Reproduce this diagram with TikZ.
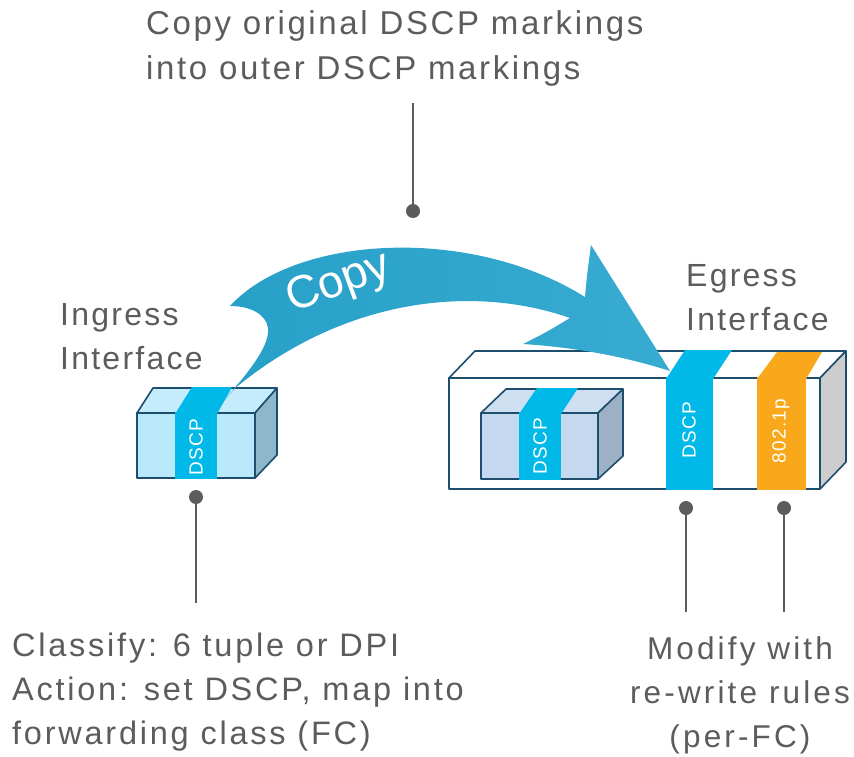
\documentclass[tikz,border=0pt]{standalone}
\usepackage{fontspec}
\setmainfont{Liberation Sans}[LetterSpace=7]
\usetikzlibrary{fadings}

\definecolor{txtgray}{HTML}{5C5C5C}
\definecolor{boxline}{HTML}{1D4E6E}
\definecolor{cyanband}{HTML}{00B9E8}
\definecolor{orangeband}{HTML}{F9A81B}
\definecolor{ingfront}{HTML}{B9E8FB}
\definecolor{ingtop}{HTML}{C4ECFC}
\definecolor{ingside}{HTML}{8DB8CB}
\definecolor{pktfront}{HTML}{C4D8EF}
\definecolor{pkttop}{HTML}{CEDFF2}
\definecolor{pktside}{HTML}{9DB1C6}
\definecolor{frameside}{HTML}{CDCDCD}
\definecolor{copyA}{HTML}{27A0C8}
\definecolor{copyB}{HTML}{38ABD1}

% soft vertical falloff for the drop shadows
\tikzfading[name=softedge, top color=transparent!100, middle color=transparent!15, bottom color=transparent!100]

\tikzset{
  lbl/.style={text=txtgray, inner sep=0pt},
  edge/.style={draw=boxline, line width=1.6pt, line join=round},
  tag/.style={text=white, rotate=90, inner sep=0pt, font=\fontsize{19}{19}\selectfont},
  pin/.style={draw=txtgray, line width=1.8pt},
  pindot/.style={fill=txtgray, circle, inner sep=0pt, minimum size=14pt},
  shadow/.style={left color=black!32, right color=white, path fading=softedge},
}

\begin{document}
\begin{tikzpicture}[x=1pt, y=-1pt]
\useasboundingbox (0,0) rectangle (854,757);

% ---------- drop shadows ----------
\shade[shadow] (250,446) rectangle (318,488);
\shade[shadow] (594,446) rectangle (660,486);
\shade[shadow] (840,455) rectangle (854,500);
\fill[black!12, path fading=softedge] (455,484) rectangle (846,500);

% ---------- ingress packet ----------
\path[fill=ingtop, edge] (137,413) -- (153,388) -- (277,388) -- (255,413) -- cycle;
\path[fill=ingfront, edge] (137,413) rectangle (255,478);
\path[fill=ingside, edge] (255,413) -- (277,388) -- (277,455) -- (255,478) -- cycle;
\fill[cyanband] (175,414) -- (192,387) -- (232,387) -- (217,414) -- cycle;
\fill[cyanband] (175,412) rectangle (217,479);
\node[tag] (ingdscp) at (196,447) {DSCP};

% ---------- egress frame ----------
\path[fill=white, edge] (449,378) -- (475,351) -- (846,351) -- (820,378) -- cycle;
\path[fill=white, edge] (449,378) rectangle (820,489);
\path[fill=frameside, edge] (820,378) -- (846,351) -- (846,462) -- (820,489) -- cycle;

% inner (original) packet
\path[fill=pkttop, edge] (481,413) -- (506,389) -- (623,389) -- (598,413) -- cycle;
\path[fill=pktfront, edge] (481,413) rectangle (598,479);
\path[fill=pktside, edge] (598,413) -- (623,389) -- (623,456) -- (598,479) -- cycle;
\fill[cyanband] (519,414) -- (537,388) -- (578,388) -- (561,414) -- cycle;
\fill[cyanband] (519,412) rectangle (561,480);
\node[tag] (innerdscp) at (540,446) {DSCP};

% outer header fields
\fill[cyanband] (666,379) -- (685,350) -- (732,350) -- (713,379) -- cycle;
\fill[cyanband] (666,377) rectangle (713,490);
\node[tag] (outerdscp) at (689,430) {DSCP};
\fill[orangeband] (757,379) -- (777,352) -- (822,352) -- (806,379) -- cycle;
\fill[orangeband] (757,377) rectangle (806,490);
\node[tag] (dot1p) at (781,431) {802.1p};

% ---------- copy arrow ----------
\fill[copyA, opacity=0.45] (238,384) -- (251,371) -- (213,413) -- cycle;
\shade[left color=copyA, right color=copyB]
  (230,306) .. controls (295,235) and (470,225) .. (585,297)
  .. controls (587,275) .. (591,245)
  -- (670,371)
  .. controls (620,355) and (570,347) .. (523,344)
  .. controls (545,333) .. (570,318)
  .. controls (470,283) and (340,300) .. (233,390)
  .. controls (250,370) and (270,345) .. (268,328)
  .. controls (266,314) and (250,306) .. (230,306) -- cycle;
\node[text=white, inner sep=0pt, rotate=20,
      font=\fontsize{46}{46}\selectfont\addfontfeature{LetterSpace=0}] (copy) at (339,284) {Copy};

% ---------- labels ----------
\node[lbl, anchor=north west, align=left,
      font=\fontsize{33}{45}\selectfont\addfontfeature{LetterSpace=8}] (topnote) at (146,10)
  {Copy original DSCP markings\\into outer DSCP markings};
\node[lbl, anchor=north west, align=left, font=\fontsize{32}{44}\selectfont] (ingress) at (60,303)
  {Ingress\\Interface};
\node[lbl, anchor=north west, align=left, font=\fontsize{32}{44}\selectfont] (egress) at (686,264)
  {Egress\\Interface};
\node[lbl, anchor=north west, align=left,
      font=\fontsize{32.5}{44}\selectfont\addfontfeature{LetterSpace=8.5}] (classnote) at (12,633)
  {Classify: 6 tuple or DPI\\Action: set DSCP, map into\\forwarding class (FC)};
\node[lbl, anchor=north, align=center,
      font=\fontsize{31.5}{44}\selectfont\addfontfeature{LetterSpace=10}] (rewritenote) at (740,636)
  {Modify with\\re-write rules\\(per-FC)};

% ---------- callout pins ----------
\node[pindot] (topdot) at (413,211) {};
\coordinate (toptop) at (413,103);
\draw[pin] (toptop) -- (topdot);

\node[pindot] (ingdot) at (196,497) {};
\coordinate (ingend) at (196,603);
\draw[pin] (ingdot) -- (ingend);

\node[pindot] (dscpdot) at (686,508) {};
\coordinate (dscpend) at (686,612);
\draw[pin] (dscpdot) -- (dscpend);

\node[pindot] (pdot) at (784,508) {};
\coordinate (pend) at (784,612);
\draw[pin] (pdot) -- (pend);
\end{tikzpicture}
\end{document}
